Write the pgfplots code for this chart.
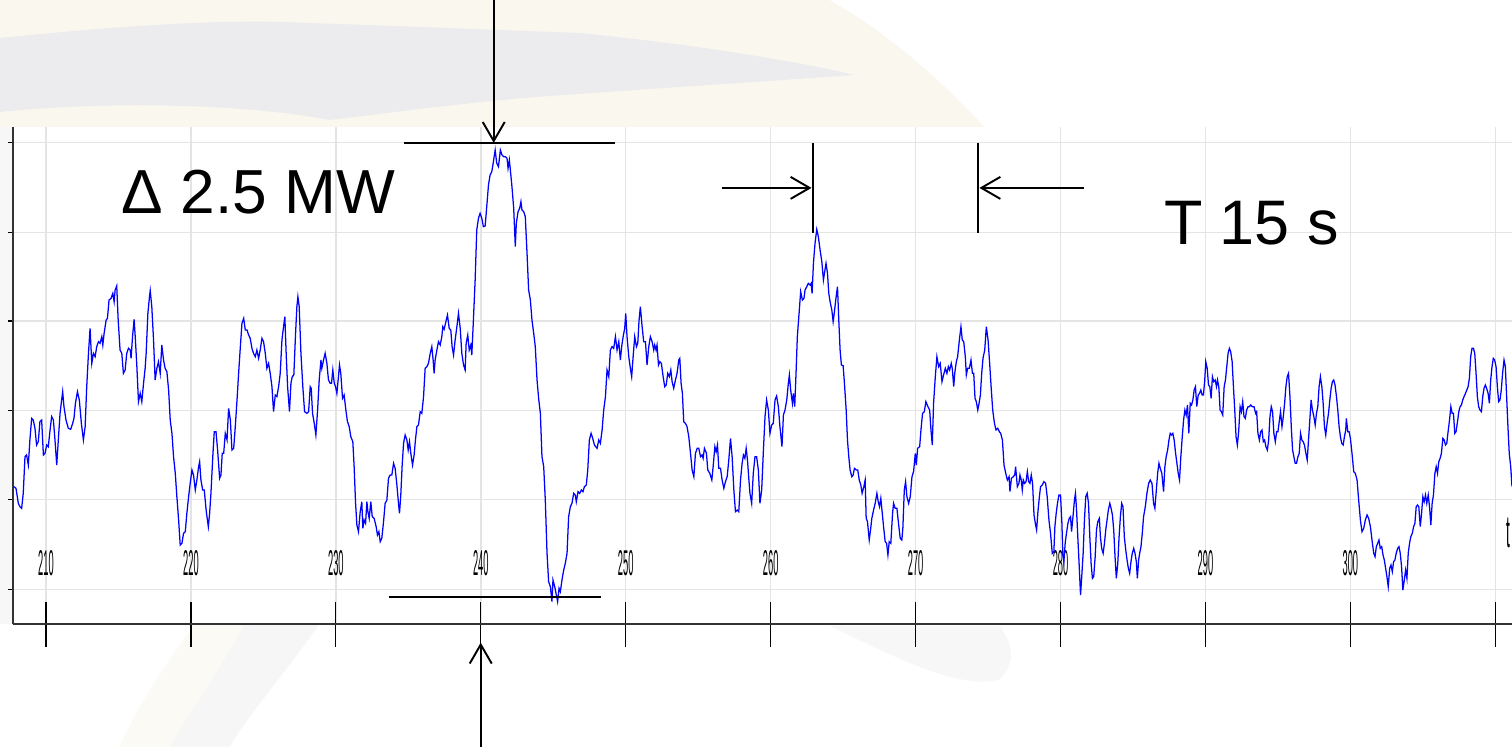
\documentclass[border=0pt]{standalone}
\usepackage{fontspec}
\setmainfont{Liberation Sans}
\usepackage{pgfplots}
\pgfplotsset{compat=1.18}
\usetikzlibrary{arrows.meta}
\definecolor{cream}{RGB}{250,247,239}
\definecolor{creamlight}{RGB}{252,250,245}
\definecolor{swoosh}{RGB}{236,236,238}
\definecolor{gridc}{RGB}{228,228,228}
\begin{document}
\begin{tikzpicture}
\useasboundingbox (0,0) rectangle (15.12,7.47);
% ---------- background (pixel frame: x right, y down) ----------
\begin{scope}[x=0.01cm,y=-0.01cm,shift={(0cm,7.47cm)}]
\fill[white] (0,0) rectangle (1512,747);
\fill[cream] (0,0) -- (830,0) .. controls (900,40) and (950,90) .. (985,127) -- (0,127) -- cycle;
\fill[swoosh] (0,38) .. controls (100,28) and (200,20) .. (280,22) .. controls (400,26) and (500,30) .. (580,33)
  .. controls (700,45) and (800,62) .. (855,75) .. controls (760,82) and (660,88) .. (580,94)
  .. controls (480,100) and (400,112) .. (330,120) .. controls (250,105) and (120,100) .. (0,112) -- cycle;
\fill[gray!6] (0,127) rectangle (13,624);
\fill[creamlight] (195,624) -- (245,624) .. controls (215,680) and (185,720) .. (170,747) -- (120,747) .. controls (140,700) and (170,660) .. (195,624) -- cycle;
\fill[swoosh,opacity=0.45] (245,624) -- (320,624) .. controls (280,680) and (245,720) .. (230,747) -- (170,747) .. controls (185,720) and (215,680) .. (245,624) -- cycle;
\fill[swoosh,opacity=0.4] (830,626) .. controls (900,660) and (960,690) .. (1000,680) .. controls (1020,660) and (1010,640) .. (1000,626) -- cycle;
\end{scope}
% ---------- chart ----------
\begin{axis}[
  at={(0.13cm,1.23cm)}, anchor=south west,
  scale only axis, width=14.99cm, height=4.97cm,
  xmin=207.723, xmax=311.15, ymin=-104, ymax=1387,
  axis x line*=bottom, axis y line*=left,
  axis line style={-, draw=black!80, line width=0.6pt},
  xtick={210,220,230,240,250,260,270,280,290,300,310},
  xticklabels={210,220,230,240,250,260,270,280,290,300,{}},
  ytick={0,269,537,805,1071,1341},
  yticklabels={},
  grid=major,
  grid style={draw=gridc, line width=0.4pt},
  xtick align=center, ytick align=outside,
  x tick style={black, line width=0.35pt, /pgfplots/major tick length=0.45cm},
  y tick style={black, line width=0.35pt, /pgfplots/major tick length=0.05cm},
  xticklabel style={font=\fontsize{10.2}{10}\selectfont, xscale=0.26, anchor=base, yshift=0.56cm, inner sep=0pt},
  clip=true,
]
\addplot[draw={rgb,255:red,0;green,0;blue,255}, line width=0.36pt, no marks] table {
t v
207.79 308
207.93 303
208.09 258
208.20 248
208.32 243
208.43 288
208.55 398
208.66 403
208.78 373
208.89 448
209.01 513
209.12 508
209.24 483
209.35 433
209.47 443
209.58 503
209.70 508
209.82 403
209.93 408
210.05 433
210.16 428
210.28 478
210.39 518
210.51 508
210.62 448
210.74 373
210.85 448
210.97 528
211.08 568
211.15 593
211.24 548
211.38 508
211.54 483
211.70 480
211.84 498
211.93 513
212.03 558
212.17 593
212.30 568
212.44 498
212.58 448
212.70 488
212.81 608
212.93 708
213.04 783
213.16 678
213.27 708
213.39 698
213.50 728
213.62 743
213.73 738
213.85 758
213.92 733
214.01 768
214.15 808
214.24 813
214.35 868
214.49 873
214.61 888
214.70 863
214.77 898
214.88 910
214.98 808
215.11 718
215.23 708
215.34 648
215.46 658
215.57 708
215.69 723
215.81 718
215.87 693
215.97 758
216.08 810
216.17 748
216.27 668
216.38 563
216.50 588
216.61 563
216.73 618
216.84 663
216.91 708
217.03 828
217.14 878
217.19 896
217.30 848
217.42 748
217.53 628
217.65 663
217.76 683
217.88 648
217.99 733
218.11 688
218.22 663
218.34 653
218.46 598
218.57 508
218.69 468
218.80 398
218.92 348
219.03 278
219.15 208
219.26 133
219.38 138
219.49 168
219.61 173
219.72 228
219.84 278
219.95 318
220.07 358
220.18 343
220.30 298
220.41 328
220.53 368
220.60 383
220.69 328
220.81 298
220.92 298
221.06 233
221.20 188
221.29 228
221.38 288
221.52 408
221.61 473
221.73 473
221.84 418
221.98 333
222.07 343
222.16 408
222.26 408
222.37 468
222.49 448
222.60 543
222.72 508
222.83 418
222.95 423
223.06 488
223.18 568
223.29 648
223.41 728
223.52 798
223.64 813
223.75 778
223.87 778
223.98 763
224.09 753
224.21 723
224.32 708
224.44 698
224.55 718
224.67 693
224.78 718
224.90 753
225.01 743
225.13 708
225.24 663
225.36 678
225.47 648
225.59 608
225.70 533
225.82 583
225.93 578
226.05 608
226.16 648
226.28 748
226.39 788
226.48 818
226.57 708
226.67 608
226.80 533
226.90 618
226.99 638
227.10 643
227.22 768
227.31 848
227.38 878
227.47 848
227.59 708
227.72 608
227.84 533
228.00 528
228.12 533
228.23 608
228.30 603
228.39 528
228.51 498
228.62 463
228.74 538
228.85 628
228.97 688
229.03 663
229.15 688
229.26 708
229.38 678
229.49 628
229.61 618
229.70 618
229.79 658
229.89 618
229.98 608
230.07 588
230.18 638
230.25 673
230.34 648
230.46 573
230.57 583
230.69 538
230.80 503
230.92 488
231.03 458
231.17 443
231.26 368
231.36 258
231.45 193
231.56 173
231.68 233
231.79 263
231.86 183
231.95 208
232.05 198
232.14 263
232.21 233
232.30 213
232.41 263
232.51 218
232.64 213
232.78 188
232.87 163
232.97 173
233.06 143
233.17 153
233.29 203
233.40 258
233.52 268
233.63 333
233.75 343
233.86 343
233.98 378
234.09 363
234.21 313
234.32 258
234.39 228
234.48 283
234.57 368
234.67 438
234.78 463
234.90 448
234.99 418
235.08 443
235.17 408
235.29 373
235.40 403
235.49 448
235.59 488
235.70 493
235.82 533
235.93 528
236.05 578
236.16 663
236.28 668
236.39 678
236.51 708
236.62 728
236.71 688
236.78 648
236.85 688
236.97 718
237.08 743
237.20 733
237.31 758
237.38 788
237.47 780
237.59 803
237.70 823
237.82 783
237.93 778
238.02 728
238.12 703
238.23 748
238.35 788
238.46 828
238.58 783
238.69 708
238.81 673
238.92 658
238.99 738
239.10 763
239.20 718
239.31 733
239.38 703
239.49 808
239.61 928
239.72 1078
239.84 1113
239.95 1128
240.07 1113
240.18 1088
240.30 1090
240.41 1148
240.53 1213
240.64 1243
240.76 1253
240.87 1283
240.99 1318
241.10 1278
241.22 1268
241.35 1318
241.46 1303
241.58 1298
241.69 1298
241.81 1293
241.88 1263
241.97 1288
242.04 1258
242.15 1208
242.27 1143
242.38 1028
242.45 1098
242.57 1133
242.68 1143
242.77 1163
242.84 1138
242.96 1133
243.07 1118
243.19 1008
243.30 898
243.42 868
243.53 808
243.65 768
243.76 728
243.88 628
243.99 573
244.11 528
244.22 398
244.34 368
244.45 268
244.57 108
244.68 23
244.80 8
244.91 -37
244.98 28
245.10 8
245.19 -12
245.30 -37
245.40 3
245.49 -7
245.60 28
245.72 58
245.83 78
245.95 108
246.06 218
246.18 248
246.29 258
246.41 288
246.52 283
246.59 263
246.71 293
246.82 288
246.94 298
247.05 293
247.15 308
247.28 313
247.38 358
247.49 448
247.61 468
247.72 453
247.84 433
248.02 423
248.14 448
248.25 438
248.37 478
248.48 538
248.60 578
248.71 658
248.83 638
248.94 718
249.06 728
249.17 723
249.29 758
249.40 718
249.52 743
249.63 688
249.72 728
249.82 758
249.93 783
250.00 828
250.09 758
250.21 698
250.32 663
250.41 638
250.51 698
250.62 758
250.74 728
250.83 738
250.92 808
251.01 848
251.13 788
251.24 743
251.36 743
251.47 673
251.59 728
251.70 758
251.82 743
251.93 718
252.00 733
252.09 718
252.16 733
252.26 673
252.35 683
252.46 678
252.58 638
252.69 608
252.79 613
252.90 648
253.01 638
253.11 658
253.20 623
253.31 603
253.43 628
253.54 648
253.66 688
253.73 693
253.82 618
253.91 588
254.00 503
254.12 498
254.23 488
254.35 458
254.47 408
254.58 358
254.70 338
254.81 408
254.93 423
255.04 423
255.16 398
255.27 403
255.34 393
255.43 423
255.57 408
255.66 358
255.80 348
255.94 328
256.03 368
256.15 428
256.24 413
256.33 433
256.42 363
256.54 363
256.65 328
256.77 303
256.88 323
257.00 338
257.11 388
257.23 453
257.34 398
257.46 298
257.57 233
257.69 238
257.80 233
257.92 328
258.03 378
258.12 403
258.22 393
258.31 423
258.40 388
258.49 333
258.57 288
258.69 258
258.80 348
258.92 398
259.03 398
259.15 358
259.26 258
259.38 298
259.49 408
259.61 518
259.72 568
259.84 538
259.95 468
260.07 493
260.18 498
260.30 568
260.41 580
260.53 548
260.64 488
260.78 428
260.88 523
260.99 538
261.11 568
261.22 618
261.29 643
261.38 598
261.50 558
261.57 588
261.66 548
261.75 648
261.84 758
261.96 828
262.07 893
262.19 868
262.30 873
262.37 898
262.49 908
262.60 918
262.72 913
262.79 918
262.86 888
262.95 978
263.06 1038
263.18 1080
263.29 1058
263.41 1018
263.53 983
263.64 928
263.71 948
263.82 978
263.92 948
264.01 888
264.10 863
264.22 838
264.31 803
264.40 833
264.49 868
264.61 908
264.70 808
264.79 718
264.88 673
265.00 671
265.09 618
265.21 538
265.30 448
265.39 398
265.48 358
265.60 338
265.69 343
265.78 363
265.90 358
266.01 358
266.11 328
266.22 313
266.31 288
266.43 308
266.52 328
266.59 213
266.68 203
266.80 148
266.89 178
266.98 213
267.10 238
267.21 258
267.33 288
267.42 263
267.51 248
267.60 273
267.70 228
267.79 188
267.90 143
268.00 138
268.09 103
268.18 143
268.29 138
268.41 228
268.48 258
268.59 243
268.71 243
268.82 198
268.94 153
269.05 148
269.12 183
269.22 298
269.31 323
269.40 278
269.52 258
269.63 278
269.75 338
269.86 353
269.98 408
270.05 373
270.14 423
270.28 428
270.37 478
270.48 528
270.60 533
270.71 563
270.85 548
270.97 538
271.06 478
271.15 433
271.24 558
271.36 638
271.47 698
271.59 668
271.70 678
271.82 623
271.93 643
272.05 663
272.16 648
272.26 668
272.35 658
272.46 678
272.53 663
272.63 608
272.70 648
272.81 683
272.90 698
273.02 748
273.13 788
273.22 748
273.32 743
273.43 698
273.50 643
273.59 663
273.71 663
273.82 688
273.92 648
274.01 648
274.10 573
274.19 563
274.29 538
274.38 558
274.47 583
274.56 648
274.65 693
274.77 718
274.88 788
275.00 748
275.11 678
275.21 608
275.32 538
275.44 498
275.55 478
275.67 483
275.78 473
275.87 468
275.99 448
276.10 373
276.22 348
276.33 328
276.45 338
276.51 293
276.61 333
276.74 338
276.84 343
276.90 368
277.02 308
277.13 318
277.20 343
277.29 328
277.36 298
277.43 328
277.52 318
277.62 323
277.71 353
277.80 323
277.89 318
277.98 343
278.07 318
278.17 223
278.28 193
278.35 178
278.44 233
278.53 273
278.62 308
278.74 313
278.85 323
278.97 318
279.08 278
279.20 208
279.31 168
279.43 108
279.54 113
279.61 188
279.70 228
279.79 258
279.89 283
280.00 283
280.09 203
280.16 103
280.23 83
280.32 138
280.41 168
280.51 198
280.60 213
280.69 218
280.76 173
280.87 223
280.96 268
281.03 288
281.10 243
281.19 158
281.28 78
281.38 -17
281.47 43
281.56 108
281.65 208
281.74 278
281.84 288
281.93 258
282.02 158
282.11 78
282.20 33
282.29 38
282.39 98
282.48 178
282.57 203
282.68 213
282.75 158
282.84 123
282.94 108
283.03 138
283.12 178
283.21 208
283.30 238
283.40 258
283.49 243
283.58 223
283.67 178
283.76 98
283.85 33
283.95 78
284.04 158
284.13 218
284.22 258
284.31 248
284.40 158
284.50 118
284.59 88
284.68 63
284.77 48
284.86 83
284.95 108
285.05 123
285.14 108
285.23 83
285.30 33
285.39 88
285.46 108
285.55 128
285.64 168
285.73 218
285.85 248
285.96 288
286.08 318
286.19 328
286.31 318
286.42 258
286.51 243
286.61 298
286.70 348
286.79 378
286.88 363
286.99 348
287.11 293
287.20 368
287.29 398
287.39 418
287.48 448
287.57 468
287.66 463
287.75 468
287.84 448
287.94 408
288.03 378
288.12 348
288.21 328
288.30 398
288.40 458
288.49 508
288.58 538
288.67 523
288.76 553
288.85 468
288.95 558
289.04 553
289.13 568
289.22 598
289.31 608
289.40 548
289.50 583
289.59 588
289.68 598
289.77 583
289.86 583
289.95 628
290.02 683
290.12 663
290.21 613
290.30 608
290.39 573
290.48 638
290.57 623
290.67 628
290.76 608
290.83 628
290.92 608
291.01 538
291.10 533
291.19 523
291.29 608
291.38 628
291.47 668
291.56 708
291.65 723
291.74 713
291.84 683
291.93 608
292.02 538
292.11 458
292.20 433
292.29 473
292.39 548
292.48 533
292.57 563
292.66 518
292.75 513
292.84 538
292.94 548
293.03 548
293.12 553
293.23 548
293.35 548
293.46 528
293.53 533
293.62 468
293.72 448
293.81 473
293.90 478
293.99 443
294.08 448
294.17 428
294.27 418
294.36 448
294.45 518
294.54 548
294.63 533
294.72 468
294.82 443
294.91 473
295.00 473
295.09 503
295.18 533
295.28 488
295.37 518
295.46 558
295.55 608
295.64 638
295.73 648
295.83 578
295.92 488
296.01 418
296.10 398
296.19 378
296.28 378
296.38 398
296.47 408
296.56 468
296.65 448
296.74 443
296.83 433
296.93 408
297.02 388
297.11 448
297.20 508
297.29 568
297.38 538
297.48 518
297.57 493
297.66 528
297.75 548
297.84 608
297.93 638
298.03 608
298.12 558
298.21 488
298.30 463
298.39 498
298.49 528
298.58 568
298.67 603
298.76 623
298.85 628
298.94 613
299.04 578
299.13 538
299.22 488
299.31 458
299.40 438
299.50 433
299.59 458
299.68 478
299.72 513
299.82 473
299.91 473
300.00 453
300.11 408
300.23 353
300.34 348
300.46 328
300.57 268
300.69 208
300.80 173
300.92 183
301.03 208
301.15 223
301.26 213
301.38 188
301.49 148
301.61 108
301.70 98
301.79 128
301.88 138
301.97 148
302.06 123
302.16 128
302.25 103
302.34 88
302.43 63
302.52 38
302.61 8
302.71 63
302.80 73
302.89 53
302.98 83
303.07 88
303.16 108
303.26 123
303.35 128
303.44 108
303.53 68
303.62 -2
303.72 28
303.81 58
303.90 33
303.99 108
304.08 138
304.17 158
304.27 168
304.36 188
304.45 198
304.54 248
304.63 253
304.72 248
304.82 188
304.91 228
305.00 278
305.09 263
305.18 283
305.27 258
305.37 283
305.46 248
305.55 193
305.64 258
305.73 283
305.83 348
305.92 368
306.01 348
306.10 383
306.19 393
306.28 408
306.38 453
306.47 448
306.56 433
306.65 438
306.74 473
306.84 508
306.93 548
307.02 528
307.11 528
307.20 468
307.29 473
307.39 503
307.48 533
307.57 548
307.66 553
307.75 568
307.84 578
307.94 588
308.03 598
308.12 608
308.21 633
308.30 698
308.39 723
308.49 723
308.58 708
308.67 648
308.76 578
308.85 548
308.94 538
309.04 533
309.13 578
309.22 603
309.31 613
309.40 603
309.50 588
309.59 558
309.68 628
309.77 668
309.86 693
309.95 688
310.05 668
310.14 608
310.23 563
310.32 568
310.41 598
310.50 648
310.60 688
310.69 668
310.78 578
310.87 488
310.96 408
311.06 368
311.15 308
};
\end{axis}
% ---------- annotations (pixel frame) ----------
\begin{scope}[x=0.01cm,y=-0.01cm,shift={(0cm,7.47cm)},
  barb/.style={line width=0.55pt,-{Straight Barb[length=0.19cm,width=0.22cm,line width=0.55pt]}}]
\draw[line width=0.65pt] (404,143) -- (615,143);
\draw[line width=0.65pt] (389,597) -- (601,597);
\draw[barb] (494,0) -- (494,143);
\draw[barb] (481,747) -- (481,643);
\draw[line width=0.55pt] (813,143) -- (813,233);
\draw[line width=0.55pt] (979,143) -- (979,233);
\draw[barb] (722,188) -- (812,188);
\draw[barb] (1085,188) -- (980,188);
\node[anchor=base west, inner sep=0pt, font=\fontsize{17.7}{20}\selectfont] at (121,214) {Δ 2.5 MW};
\node[anchor=base west, inner sep=0pt, font=\fontsize{17.9}{20}\selectfont] at (1164,245) {T 15 s};
\node[anchor=base west, inner sep=0pt, font=\fontsize{13}{13}\selectfont, xscale=0.3] at (1507,548) {t};
\end{scope}
\end{tikzpicture}
\end{document}
